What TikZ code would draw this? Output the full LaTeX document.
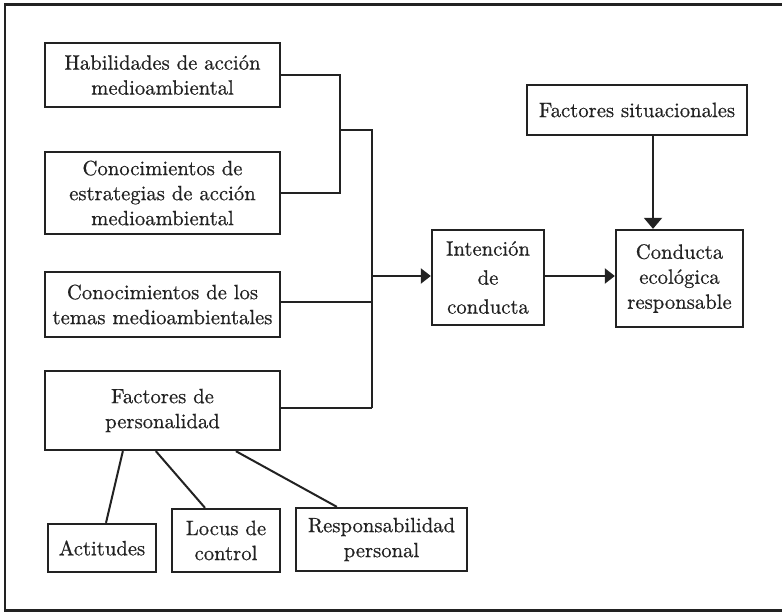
\documentclass[tikz,border=0pt]{standalone}
\usepackage{fontspec}
% the 10pt design of Latin Modern, scaled up and slightly emboldened
\setmainfont{lmroman10-regular}[Extension=.otf, FakeBold=0.6]
\usetikzlibrary{arrows.meta}
\definecolor{ink}{HTML}{222222}
\begin{document}
\begin{tikzpicture}[x=1pt,y=-1pt,
  box/.style={draw=ink, line width=2.3pt, align=center, inner sep=0pt,
    font=\fontsize{20.7}{25}\selectfont, text=ink},
  wire/.style={draw=ink, line width=2pt},
  tip/.style={-{Triangle[length=10pt,width=15pt]}},
  tipdown/.style={-{Triangle[length=11pt,width=18pt]}}]
\useasboundingbox (0,0) rectangle (782,612);
% frame (open on the right)
\draw[draw=ink, line width=2.2pt] (790,4.5) -- (5,4.5) -- (5,610.5) -- (790,610.5);

% left column
\node[box, minimum width=235pt, minimum height=64pt] (hab) at (162.5,75) {Habilidades de acción\\medioambiental};
\node[box, minimum width=235pt, minimum height=82pt] (est) at (162.5,193) {Conocimientos de\\estrategias de acción\\medioambiental};
\node[box, minimum width=235pt, minimum height=65pt] (tem) at (162.5,304.5) {Conocimientos de los\\temas medioambientales};
\node[box, minimum width=235pt, minimum height=79pt] (per) at (162.5,410.5) {Factores de\\personalidad};

% personality components
\node[box, minimum width=108pt, minimum height=48pt] (act) at (102,548) {Actitudes};
\node[box, minimum width=108pt, minimum height=63pt] (loc) at (226,540.5) {Locus de\\control};
\node[box, minimum width=171pt, minimum height=63pt] (res) at (381.5,539.5) {Responsabilidad\\personal};

% right part
\node[box, minimum width=112pt, minimum height=95pt] (int) at (488,277.5) {Intención\\[4pt]de\\[4pt]conducta};
\node[box, minimum width=127pt, minimum height=97pt] (con) at (679.5,278.5) {Conducta\\ecológica\\responsable};
\node[box, minimum width=220pt, minimum height=50pt] (sit) at (637,110) {Factores situacionales};

% bracket joining the first two boxes
\coordinate (j1) at (340,130);
\coordinate (bus) at (372,130);
\coordinate (busend) at (372,408);
\coordinate (feed) at (372,276);
\coordinate (drop) at (653,135);
\draw[wire] (hab.east) -- (hab.east -| j1) -- (est.east -| j1) -- (est.east);
\draw[wire] (j1) -- (bus) -- (busend);
\draw[wire] (tem.east |- 0,302) -- (372,302);
\draw[wire] (per.south east |- busend) -- (busend);

% arrows
\draw[wire, tip] (feed) -- (feed -| int.west);
\draw[wire, tip] (int.east |- feed) -- (feed -| con.west);
\draw[wire, tipdown] (drop |- sit.south) -- (drop |- con.north);

% personality links
\draw[wire] ([xshift=79pt]per.south west) -- ([xshift=4pt]act.north);
\draw[wire] ([xshift=112pt]per.south west) -- ([xshift=-21pt]loc.north);
\draw[wire] ([xshift=192pt]per.south west) -- ([xshift=42pt]res.north west);
\end{tikzpicture}
\end{document}
